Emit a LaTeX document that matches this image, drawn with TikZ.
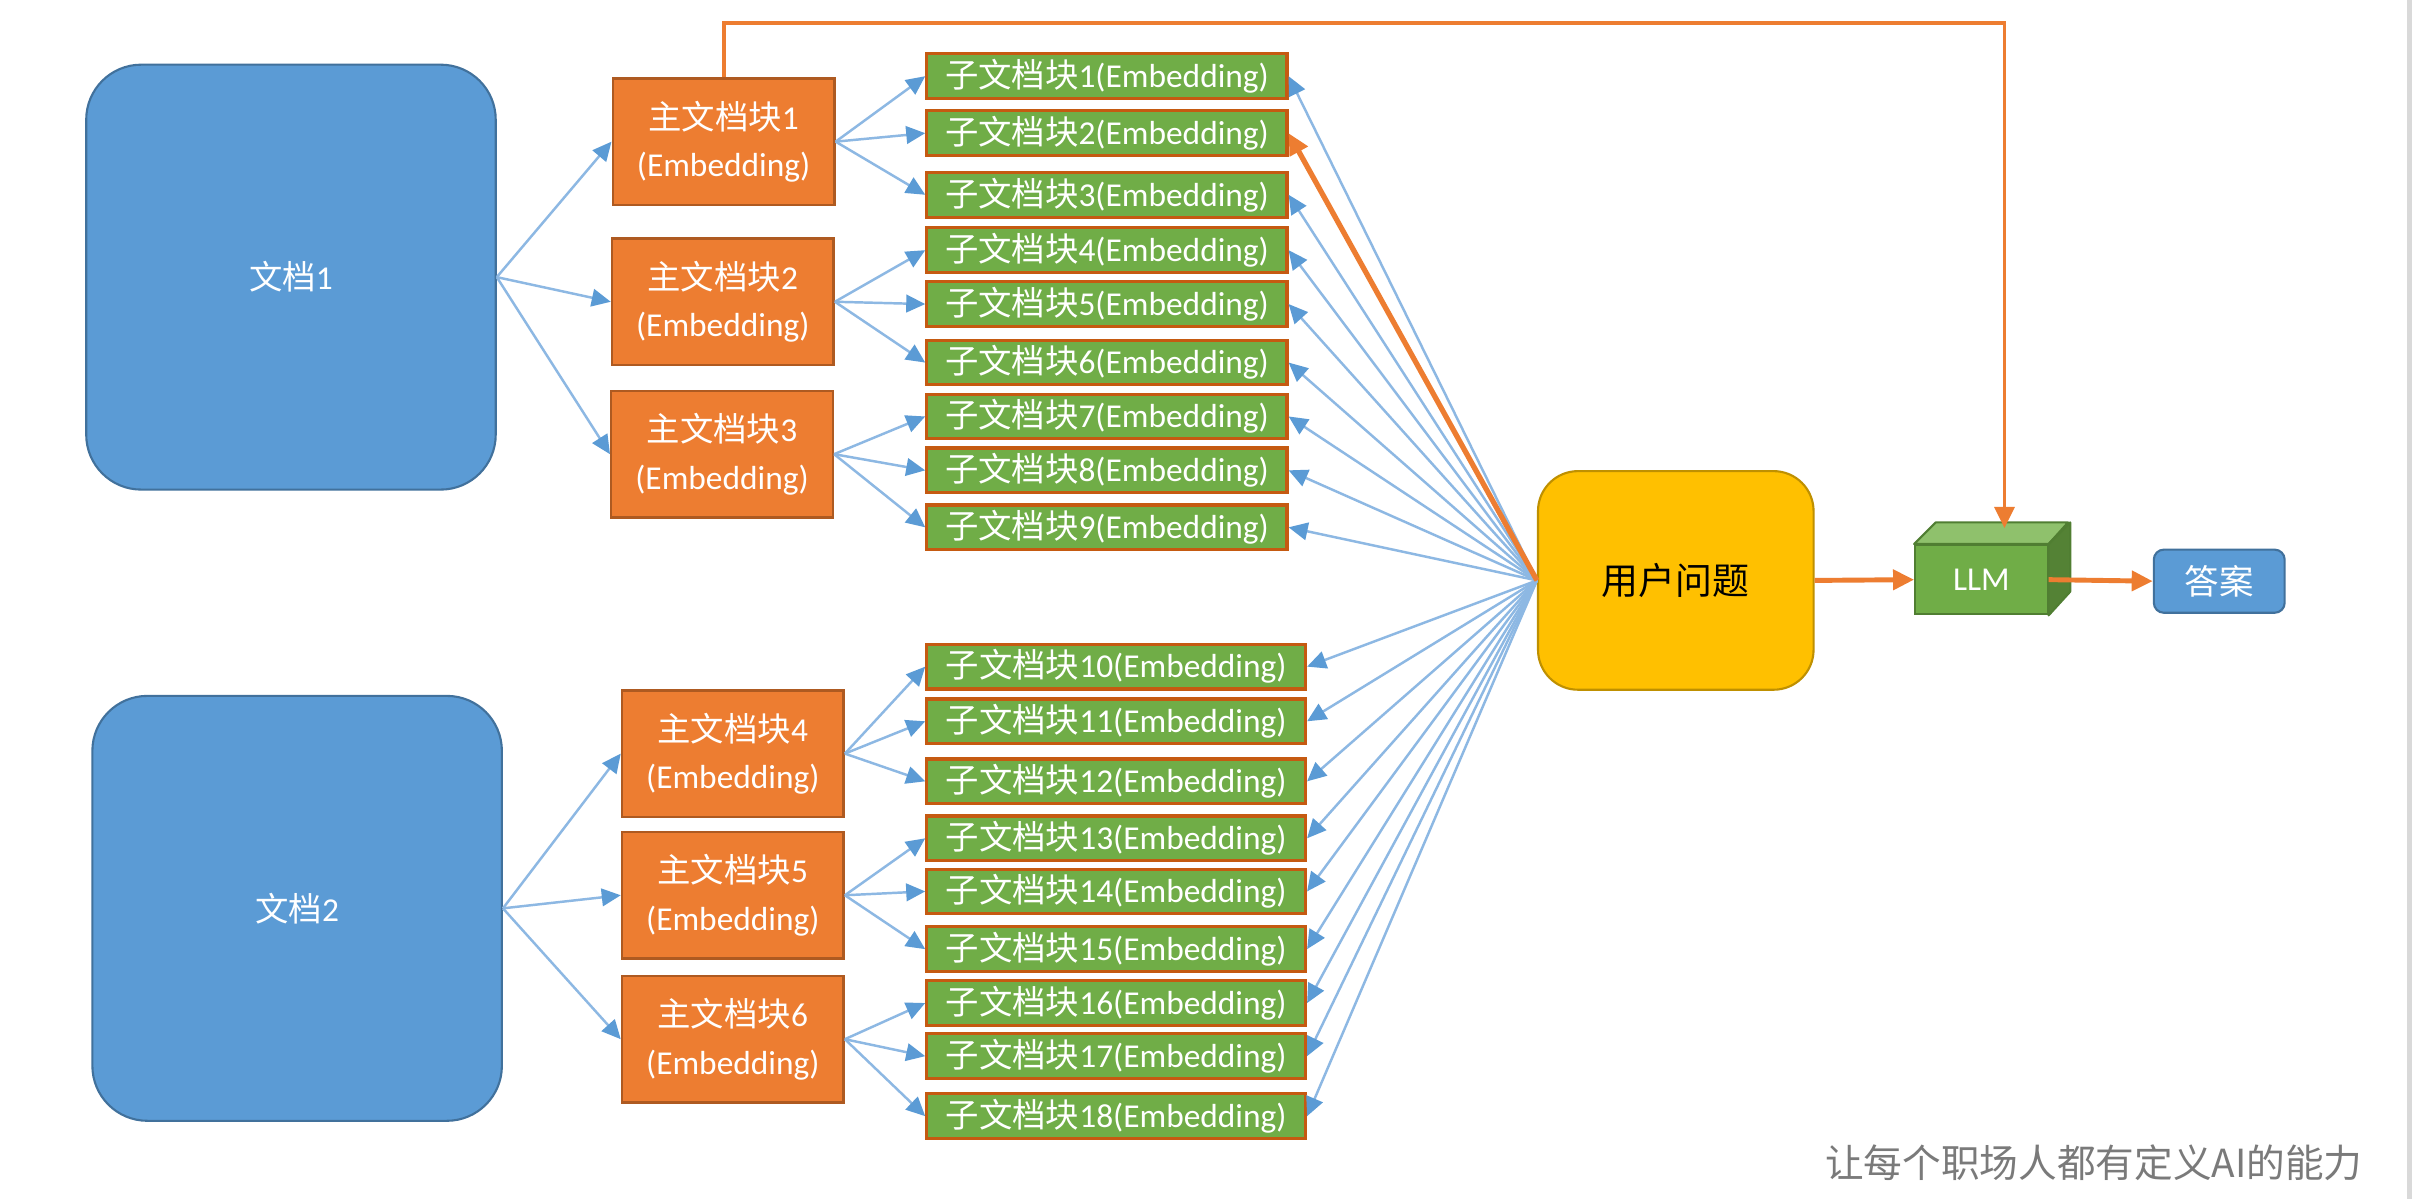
\documentclass[tikz,border=0pt]{standalone}
\usepackage{fontspec}
\setmainfont{Carlito}
\newfontfamily\cjk{Noto Sans CJK SC}
\usetikzlibrary{arrows.meta}
\definecolor{docblue}{HTML}{5B9BD5}
\definecolor{docedge}{HTML}{41719C}
\definecolor{mainfill}{HTML}{ED7D31}
\definecolor{mainedge}{HTML}{AE5A21}
\definecolor{subfill}{HTML}{70AD47}
\definecolor{subedge}{HTML}{C55A11}
\definecolor{userfill}{HTML}{FFC000}
\definecolor{useredge}{HTML}{BF9000}
\definecolor{llmtopc}{HTML}{8FC16C}
\definecolor{llmside}{HTML}{548235}
\definecolor{llmedge}{HTML}{507E32}
\definecolor{linkblue}{HTML}{8DB8E3}
\definecolor{tipblue}{HTML}{5B9BD5}
\definecolor{hotorange}{HTML}{ED7D31}
\definecolor{wmgray}{HTML}{7A7A7A}
\begin{document}
\begin{tikzpicture}[x=0.0154cm,y=-0.0154cm,
  sz/.style 2 args={minimum width=#1*0.0154cm, minimum height=#2*0.0154cm, inner sep=0pt},
  docbox/.style={draw=docedge, fill=docblue, line width=0.6pt, rounded corners=0.55cm,
    text=white, font=\fontsize{9.5}{11}\selectfont, sz={266}{276}},
  mainbox/.style={draw=mainedge, fill=mainfill, line width=0.7pt, text=white, align=center,
    font=\fontsize{9.5}{13.5}\selectfont, sz={144}{82}},
  subbox/.style={draw=subedge, fill=subfill, line width=0.9pt, text=white,
    font=\fontsize{9.5}{11}\selectfont},
  link/.style={draw=linkblue, line width=0.7pt, -{Triangle[length=5.4pt,width=5pt,color=tipblue]}},
  hot/.style={draw=hotorange, line width=1.4pt, -{Triangle[length=6pt,width=5.6pt,color=hotorange]}},
]
\useasboundingbox (0,0) rectangle (1568,779);
\fill[white] (0,0) rectangle (1568,779);
\fill[gray!30] (1563.5,0) rectangle (1566.8,779);

% documents
\node[docbox] (d1) at (189,180) {{\cjk 文档}1};
\node[docbox] (d2) at (193,590) {{\cjk 文档}2};

% main chunks
\node[mainbox] (m1) at (470,92)    {{\cjk 主文档块}1\\(Embedding)};
\node[mainbox] (m2) at (469.5,196) {{\cjk 主文档块}2\\(Embedding)};
\node[mainbox] (m3) at (469,295)   {{\cjk 主文档块}3\\(Embedding)};
\node[mainbox] (m4) at (476,489.5) {{\cjk 主文档块}4\\(Embedding)};
\node[mainbox] (m5) at (476,581.5) {{\cjk 主文档块}5\\(Embedding)};
\node[mainbox] (m6) at (476,675)   {{\cjk 主文档块}6\\(Embedding)};

% sub chunks
\foreach \i/\yy in {1/49.5,2/86.5,3/126.5,4/162.5,5/197.5,6/235.5,7/270.5,8/305.5,9/342.5}
  \node[subbox, sz={234}{29}] (s\i) at (719,\yy) {{\cjk 子文档块}\i(Embedding)};
\foreach \i/\yy in {10/433,11/468.5,12/507.5,13/544.5,14/579,15/616.5,16/651.5,17/686,18/725}
  \node[subbox, sz={246}{29}] (s\i) at (725,\yy) {{\cjk 子文档块}\i(Embedding)};

% user question, LLM, answer
\node[draw=useredge, fill=userfill, line width=0.6pt, rounded corners=0.4cm, sz={179}{142},
  font=\cjk\fontsize{10.5}{12}\selectfont] (user) at (1088.5,377) {用户问题};
\node[draw=llmedge, fill=subfill, line width=0.6pt, sz={86}{45}, text=white,
  font=\fontsize{9.5}{11}\selectfont] (llm) at (1287,376.5) {LLM};
\filldraw[draw=llmedge, fill=llmtopc, line width=0.6pt, line join=round]
  (llm.north west) -- ++(14,-14) -- ++(86,0) -- (llm.north east) -- cycle;
\filldraw[draw=llmedge, fill=llmside, line width=0.6pt, line join=round]
  (llm.north east) -- ++(14,-14) -- ++(0,45) -- (llm.south east) -- cycle;
\node[draw=docedge, fill=docblue, line width=0.6pt, rounded corners=0.1cm, sz={85}{41},
  text=white, font=\cjk\fontsize{9.8}{11}\selectfont] (ans) at (1441.5,377.5) {答案};

\coordinate (topy) at (0,15);
\coordinate (llmtop) at (1302,343);

% doc -> main
\foreach \m in {1,2,3} \draw[link] (d1.east) -- (m\m.west);
\foreach \m in {4,5,6} \draw[link] (d2.east) -- (m\m.west);

% main -> sub
\foreach \s in {1,2,3} \draw[link] (m1.east) -- (s\s.west);
\foreach \s in {4,5,6} \draw[link] (m2.east) -- (s\s.west);
\foreach \s in {7,8,9} \draw[link] (m3.east) -- (s\s.west);
\foreach \s in {10,11,12} \draw[link] (m4.east) -- (s\s.west);
\foreach \s in {13,14,15} \draw[link] (m5.east) -- (s\s.west);
\foreach \s in {16,17,18} \draw[link] (m6.east) -- (s\s.west);

% user -> sub chunks
\foreach \s in {1,3,4,5,6,7,8,9,10,11,12,13,14,15,16,17,18}
  \draw[link] (user.west) -- (s\s.east);
\draw[hot, line width=1.5pt] (user.west) -- (s2.east);

% main chunk 1 -> LLM
\draw[hot, line width=1.1pt] (m1.north) -- (m1.north |- topy) -| (llmtop);

% user -> LLM -> answer
\draw[hot] (user.east) -- (llm.west);
\draw[hot] (llm.east) -- (ans.west);

% watermark
\node[text=wmgray, font=\cjk\fontsize{11}{12}\selectfont] (wm) at (1360,755) {让每个职场人都有定义AI的能力};
\end{tikzpicture}
\end{document}
